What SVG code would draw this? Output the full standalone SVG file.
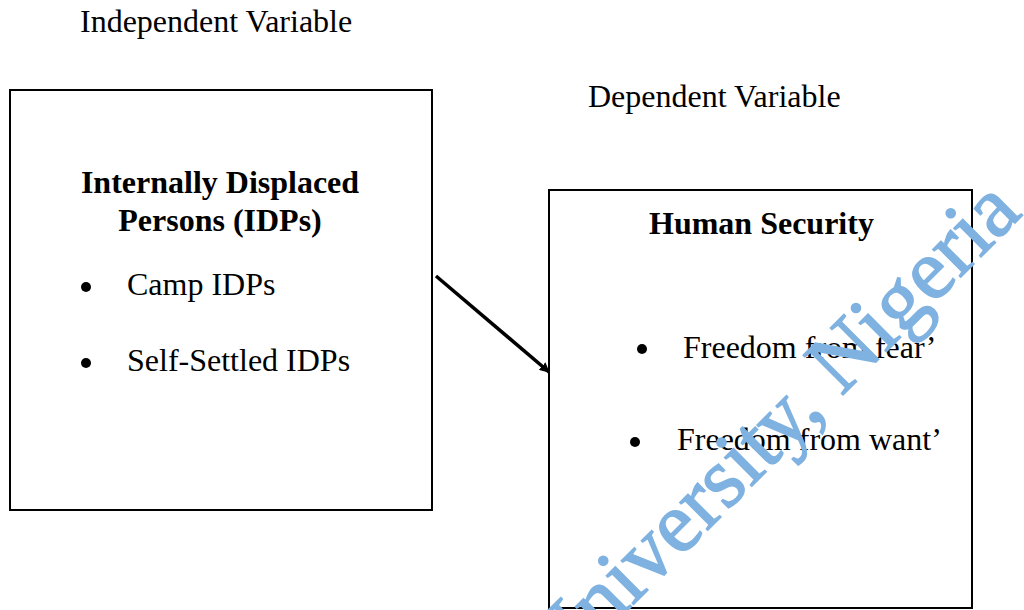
<svg xmlns="http://www.w3.org/2000/svg" width="1024" height="610" viewBox="0 0 1024 610">
<style>
.t{font-family:"Liberation Serif","Times New Roman",serif;font-size:32px;fill:#000}
.b{font-weight:bold}
.box{fill:none;stroke:#000;stroke-width:2}
.wm{font-family:"Liberation Serif","Times New Roman",serif;font-size:86px;fill:#7fb2e0;stroke:#7fb2e0;stroke-width:1.5}
</style>
<defs>
<marker id="ah" markerWidth="10" markerHeight="10" refX="9" refY="5" orient="auto" markerUnits="userSpaceOnUse" viewBox="0 0 10 10">
<path d="M0,0 L10,5 L0,10 z" fill="#000"/>
</marker>
</defs>
<rect width="1024" height="610" fill="#fff"/>
<text class="t" x="80" y="32">Independent Variable</text>
<text class="t" x="588" y="107">Dependent Variable</text>
<g id="idps">
<rect class="box" x="10" y="90" width="422" height="420"/>
<text class="t b" x="220" y="193" text-anchor="middle">Internally Displaced</text>
<text class="t b" x="220" y="231" text-anchor="middle">Persons (IDPs)</text>
<circle cx="86" cy="287" r="5"/>
<text class="t" x="127" y="295">Camp IDPs</text>
<circle cx="86" cy="363" r="5"/>
<text class="t" x="127" y="371">Self-Settled IDPs</text>
</g>
<g id="humansecurity">
<rect class="box" x="549" y="190" width="423" height="418"/>
<text class="t b" x="649" y="234">Human Security</text>
<circle cx="642" cy="349" r="5"/>
<text class="t" x="683" y="358">Freedom from fear’</text>
<circle cx="635" cy="442" r="5"/>
<text class="t" x="677" y="450">Freedom from want’</text>
</g>
<g id="connectors">
<path d="M436,276 L549,372" stroke="#000" stroke-width="3.5" fill="none" marker-end="url(#ah)"/>
</g>
<text class="wm" transform="translate(558,680) rotate(-45)">University, Nigeria</text>
</svg>
